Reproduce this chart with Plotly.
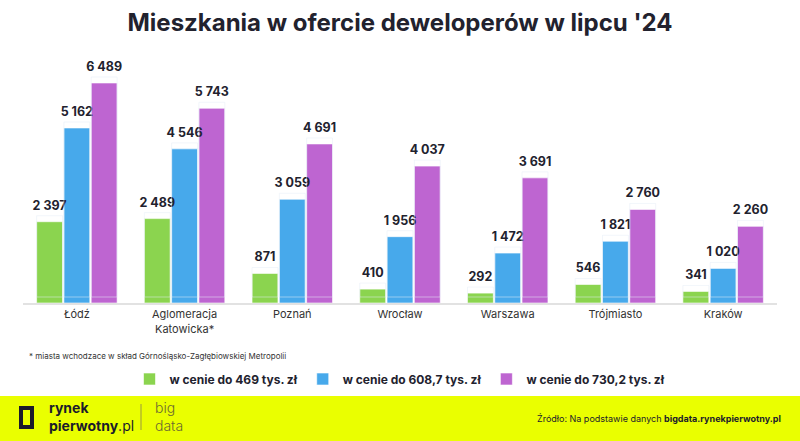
import plotly.graph_objects as go

categories = ["Łódź", "Aglomeracja<br>Katowicka*", "Poznań", "Wrocław", "Warszawa", "Trójmiasto", "Kraków"]
s1_name = "w cenie do 469 tys. zł"
s2_name = "w cenie do 608,7 tys. zł"
s3_name = "w cenie do 730,2 tys. zł"
s1 = [2397, 2489, 871, 410, 292, 546, 341]
s2 = [5162, 4546, 3059, 1956, 1472, 1821, 1020]
s3 = [6489, 5743, 4691, 4037, 3691, 2760, 2260]

colors = ["#8BD44F", "#47A9EB", "#BE65D1"]
FONT = "Inter"
DARK = "#22222E"

def fmt(v):
    return f"{v:,}".replace(",", " ")

series = [(s1_name, s1, colors[0]), (s2_name, s2, colors[1]), (s3_name, s3, colors[2])]

fig = go.Figure()
for name, vals, c in series:
    fig.add_trace(go.Bar(
        x=categories, y=vals, name=name,
        marker=dict(color=c, line=dict(color="rgba(255,255,255,0.6)", width=1)),
    ))
# value labels on an overlaid subplot so they sit above every bar
for name, vals, c in series:
    fig.add_trace(go.Bar(
        x=categories, y=vals, name=name, showlegend=False, hoverinfo="skip",
        xaxis="x2", yaxis="y2",
        marker=dict(color="rgba(0,0,0,0)"),
        text=[fmt(v) for v in vals],
        textposition="outside", cliponaxis=False,
        textfont=dict(family=FONT, size=12.5, color=DARK, weight="bold"),
    ))

W, H = 800, 441
L, R, T, B = 23, 23, 60, 138
ph = H - T - B
pw = W - L - R
YMAX = 7167
label_pad_px = 6
pad = label_pad_px * YMAX / ph

def py(y):  # pixel y to paper
    return (H - B - y) / ph

def px(x):
    return (x - L) / pw

fig.update_layout(
    width=W, height=H,
    margin=dict(l=L, r=R, t=T, b=B),
    paper_bgcolor="white", plot_bgcolor="white",
    barmode="group", bargap=0.24, bargroupgap=0.05,
    uniformtext=dict(minsize=12, mode="show"),
    showlegend=True,
    legend=dict(orientation="h", x=px(400), xanchor="center", y=py(379), yanchor="middle",
                font=dict(family=FONT, size=12, color=DARK, weight="bold"),
                itemwidth=30, traceorder="normal"),
    title=dict(text="<b>Mieszkania w ofercie deweloperów w lipcu '24</b>", x=0.5, xanchor="center",
               y=1 - 23 / H, yanchor="middle", font=dict(family=FONT, size=24, color=DARK)),
    xaxis=dict(showgrid=False, showline=True, linecolor="#E2E2E2", linewidth=2,
               ticks="", tickfont=dict(family=FONT, size=11, color="#333333")),
    yaxis=dict(visible=False, range=[0, YMAX]),
    xaxis2=dict(overlaying="x", matches="x", visible=False),
    yaxis2=dict(overlaying="y", visible=False, range=[-pad, YMAX - pad]),
    font=dict(family=FONT),
)

# footnote
fig.add_annotation(text="* miasta wchodzace w skład Górnośląsko-Zagłębiowskiej Metropolii",
                   xref="paper", yref="paper", x=px(27), y=py(356), xanchor="left", yanchor="middle",
                   showarrow=False, font=dict(family=FONT, size=8, color="#333333"))

# footer band
fig.add_shape(type="rect", xref="paper", yref="paper", x0=px(0), x1=px(W), y0=py(H), y1=py(396),
              fillcolor="#EAFF00", line=dict(width=0), layer="below")
# logo icon
fig.add_shape(type="rect", xref="paper", yref="paper", x0=px(21), x1=px(32), y0=py(427), y1=py(408),
              fillcolor="rgba(0,0,0,0)", line=dict(color="#1B1B2B", width=4))
fig.add_shape(type="line", xref="paper", yref="paper", x0=px(141), x1=px(141), y0=py(430), y1=py(404),
              line=dict(color="#9A9A40", width=1))
fig.add_annotation(text="rynek<br>pierwotny<span style='font-weight:400'>.pl</span>", xref="paper", yref="paper",
                   x=px(47), y=py(417), xanchor="left", yanchor="middle", align="left", showarrow=False,
                   font=dict(family=FONT, size=14, color="#1B1B2B", weight="bold"))
fig.add_annotation(text="big<br>data", xref="paper", yref="paper",
                   x=px(153), y=py(417), xanchor="left", yanchor="middle", align="left", showarrow=False,
                   font=dict(family=FONT, size=14, color="#6A6A30", weight=300))
fig.add_annotation(text="Źródło: Na podstawie danych <b>bigdata.rynekpierwotny.pl</b>", xref="paper", yref="paper",
                   x=px(783), y=py(418), xanchor="right", yanchor="middle", showarrow=False,
                   font=dict(family=FONT, size=9, color="#1B1B2B"))

fig.write_html("out.html")
